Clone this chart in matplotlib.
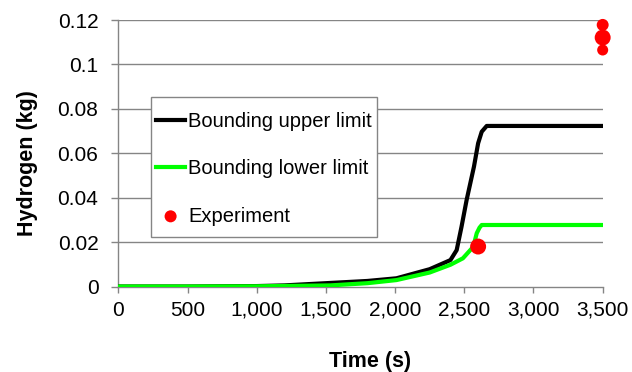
import matplotlib.pyplot as plt
from matplotlib.patches import Rectangle
from matplotlib.ticker import FuncFormatter

plt.rcParams['font.family'] = ['Liberation Sans', 'DejaVu Sans']

# bounding curves
upper_time = [0, 500, 1000, 1200, 1530, 1800, 2010, 2250, 2400, 2445, 2480, 2517, 2570, 2600, 2626, 2662, 2700, 3000, 3500]
upper_h = [0, 0, 0.0002, 0.0005, 0.0016, 0.0025, 0.0037, 0.0078, 0.0119, 0.0164, 0.0269, 0.039, 0.054, 0.0645, 0.0697, 0.0723, 0.0723, 0.0723, 0.0723]

lower_time = [0, 500, 1000, 1530, 1800, 2010, 2250, 2400, 2490, 2565, 2590, 2610, 2626, 2660, 3000, 3500]
lower_h = [0, 0, 0.0001, 0.0005, 0.0015, 0.0029, 0.0063, 0.0098, 0.0127, 0.0179, 0.024, 0.0265, 0.0277, 0.0277, 0.0277, 0.0277]

exp_time = [2600, 3500, 3500, 3500]
exp_h = [0.018, 0.1178, 0.1121, 0.1065]

x_ticks = [0, 500, 1000, 1500, 2000, 2500, 3000, 3500]
y_ticks = [0, 0.02, 0.04, 0.06, 0.08, 0.1, 0.12]

exp_sizes = [132, 74, 132, 63]  # marker areas, style only
grey = '#858585'

fig = plt.figure(figsize=(6.32, 3.72), dpi=100)
ax = fig.add_axes([0.1872, 0.2298, 0.7664, 0.7164])

for y in y_ticks[1:]:
    ax.axhline(y, color=grey, lw=1.0, zorder=0)

ax.plot(upper_time, upper_h, color='black', lw=3.0, label='Bounding upper limit', zorder=3)
ax.plot(lower_time, lower_h, color='#00ff00', lw=3.0, label='Bounding lower limit', zorder=4)
ax.scatter(exp_time, exp_h, s=exp_sizes, color='#ff0000', edgecolors='none',
           label='Experiment', zorder=5, clip_on=False)

ax.set_xlim(0, 3500)
ax.set_ylim(0, 0.12)
ax.set_xticks(x_ticks)
ax.set_yticks(y_ticks)
ax.xaxis.set_major_formatter(FuncFormatter(lambda v, p: '{:,.0f}'.format(v)))
ax.yaxis.set_major_formatter(FuncFormatter(lambda v, p: '{:g}'.format(round(v, 3))))

for spine in ['top', 'right']:
    ax.spines[spine].set_visible(False)
for spine in ['left', 'bottom']:
    ax.spines[spine].set_color(grey)
    ax.spines[spine].set_linewidth(1.0)

ax.tick_params(axis='y', direction='out', length=4.8, width=1, color=grey, pad=9.5, labelsize=15)
ax.tick_params(axis='x', direction='out', length=4.3, width=1, color=grey, pad=6, labelsize=15)

ax.set_xlabel('Time (s)', fontsize=15.5, fontweight='bold')
ax.set_ylabel('Hydrogen (kg)', fontsize=15.5, fontweight='bold')
ax.xaxis.set_label_coords(0.5196, -0.282)
ax.yaxis.set_label_coords(-0.1874, 0.462)
ax.xaxis.label.set_va('center')
ax.yaxis.label.set_va('center')

# legend box drawn by hand, legend itself frameless
ax.add_patch(Rectangle((0.0669, 0.1846), 0.4678, 0.5254, transform=ax.transAxes,
                       facecolor='white', edgecolor=grey, lw=1.0, zorder=6))
leg = ax.legend(loc='upper left', bbox_to_anchor=(0.0778, 0.654), frameon=False,
                fontsize=14.5, handlelength=1.45, handletextpad=0.15, labelspacing=1.4,
                borderpad=0, borderaxespad=0, scatterpoints=1)
leg.set_zorder(7)
leg.legend_handles[2].set_sizes([75])

fig.savefig('out.png', dpi=100)
